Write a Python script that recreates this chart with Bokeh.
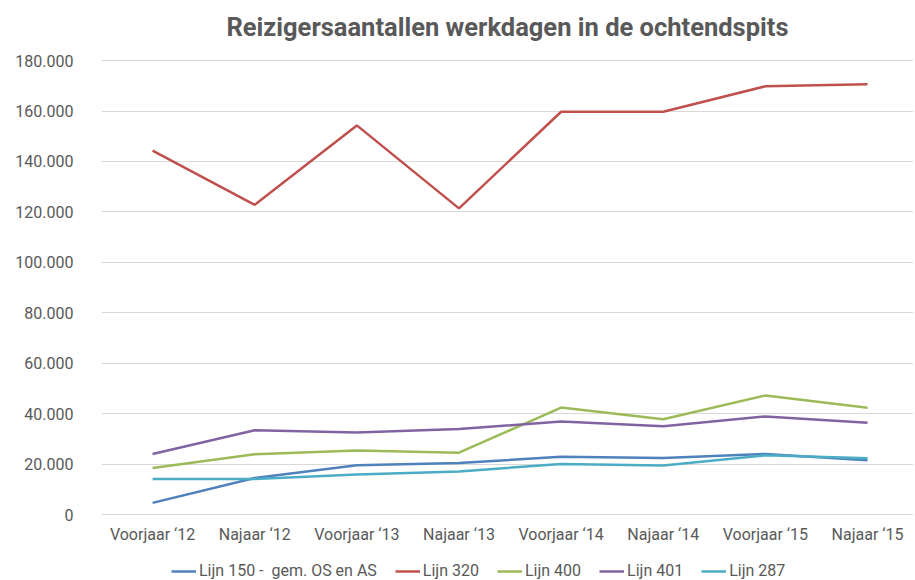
from bokeh.plotting import figure
from bokeh.models import Legend, LegendItem, FixedTicker, Range1d
from bokeh.embed import file_html
from bokeh.resources import INLINE

periods = ["Voorjaar \u201812", "Najaar \u201812", "Voorjaar \u201813", "Najaar \u201813",
           "Voorjaar \u201814", "Najaar \u201814", "Voorjaar \u201815", "Najaar \u201815"]
lijn_150 = [4600, 14500, 19500, 20400, 22900, 22400, 24000, 21500]
lijn_320 = [144300, 122800, 154300, 121400, 159700, 159700, 169800, 170600]
lijn_400 = [18400, 23900, 25400, 24500, 42400, 37800, 47200, 42300]
lijn_401 = [24000, 33400, 32500, 33900, 36900, 35000, 38900, 36400]
lijn_287 = [14100, 14100, 15900, 17100, 20000, 19400, 23500, 22300]

series_names = ["Lijn 150 -  gem. OS en AS", "Lijn 320", "Lijn 400", "Lijn 401", "Lijn 287"]
series_values = [lijn_150, lijn_320, lijn_400, lijn_401, lijn_287]
series_colors = ["#4F81BD", "#C0504D", "#9BBB59", "#8064A2", "#4BACC6"]

y_ticks = [0, 20000, 40000, 60000, 80000, 100000, 120000, 140000, 160000, 180000]
y_tick_labels = ["0", "20.000", "40.000", "60.000", "80.000", "100.000",
                 "120.000", "140.000", "160.000", "180.000"]

FONT = "Roboto"
GRAY = "#595959"

x_idx = list(range(len(periods)))

# frame extends below the zero line so the axis labels and legend sit inside it
p = figure(frame_width=812, frame_height=532, output_backend="svg", toolbar_location=None,
           x_range=Range1d(-0.5, 7.45), y_range=Range1d(-26965, 184000),
           min_border_left=101, min_border_right=0, min_border_top=50, min_border_bottom=0)
p.outline_line_color = None

p.title.text = "Reizigersaantallen werkdagen in de ochtendspits"
p.title.text_font = FONT
p.title.text_font_size = "25.5px"
p.title.text_font_style = "bold"
p.title.text_color = GRAY
p.title.align = "center"
p.title.standoff = 18
p.title.offset = 8

# axes
p.yaxis.ticker = FixedTicker(ticks=y_ticks)
p.yaxis.major_label_overrides = {t: l for t, l in zip(y_ticks, y_tick_labels)}
p.xaxis.ticker = FixedTicker(ticks=x_idx)
p.xaxis.major_label_overrides = {i: lab for i, lab in zip(x_idx, periods)}
p.xaxis.fixed_location = 0
for ax in (p.xaxis, p.yaxis):
    ax.major_tick_line_color = None
    ax.minor_tick_line_color = None
    ax.major_label_text_font = FONT
    ax.major_label_text_font_size = "16px"
    ax.major_label_text_color = GRAY
p.yaxis.axis_line_color = None
p.xaxis.axis_line_color = "#D9D9D9"
p.yaxis.major_label_standoff = 22
p.xaxis.major_label_standoff = 4

p.xgrid.grid_line_color = None
p.ygrid.grid_line_color = "#D9D9D9"
p.ygrid.grid_line_width = 1

items = []
for name, vals, col in zip(series_names, series_values, series_colors):
    r = p.line(x_idx, vals, line_color=col, line_width=2.5)
    items.append(LegendItem(label=name, renderers=[r]))

legend = Legend(items=items, orientation="horizontal", location=(70, 2),
                label_text_font=FONT, label_text_font_size="16px", label_text_color=GRAY,
                glyph_width=25, glyph_height=16, label_standoff=3, spacing=18,
                border_line_color=None, background_fill_alpha=0, padding=0, margin=0)
p.add_layout(legend)

open("out.html", "w").write(file_html(p, INLINE))
